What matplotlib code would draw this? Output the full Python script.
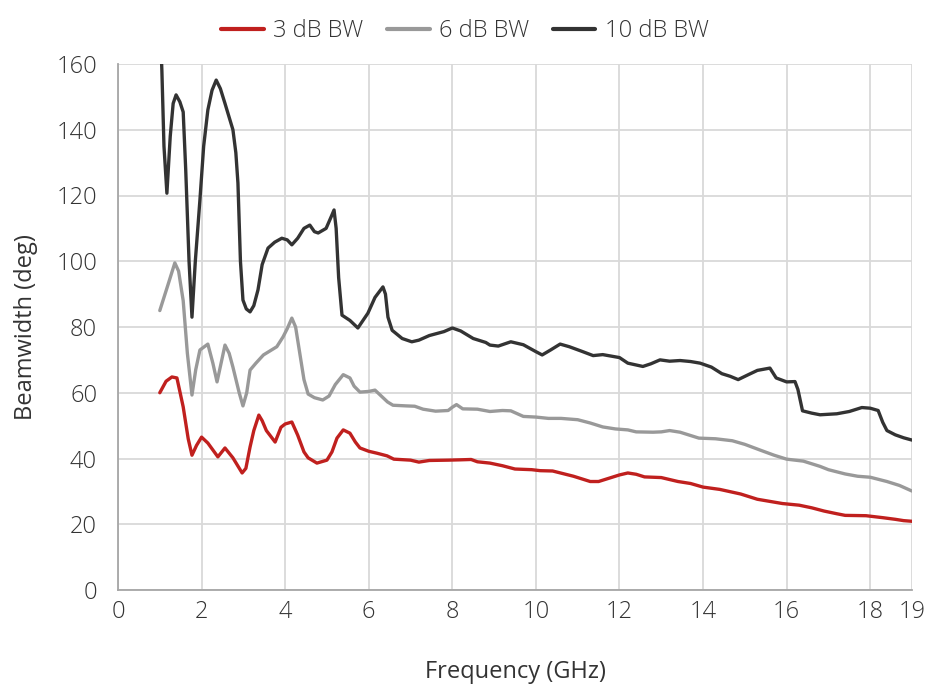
import matplotlib
matplotlib.use("Agg")
import matplotlib.pyplot as plt

# ---- data ----
f_3db = [1.0, 1.15, 1.29, 1.41, 1.56, 1.68, 1.77, 1.88, 2.0, 2.15, 2.39, 2.56, 2.75, 2.97, 3.06,
         3.16, 3.25, 3.37, 3.45, 3.55, 3.76, 3.9, 4.0, 4.16, 4.3, 4.45, 4.55, 4.76, 5.0, 5.12,
         5.24, 5.39, 5.55, 5.68, 5.79, 6.0, 6.2, 6.44, 6.6, 7.0, 7.2, 7.45, 7.9, 8.2, 8.45,
         8.6, 8.9, 9.2, 9.5, 9.9, 10.1, 10.4, 10.9, 11.3, 11.5, 11.8, 12.0, 12.2, 12.4, 12.6,
         13.0, 13.4, 13.7, 14.0, 14.4, 14.9, 15.3, 15.9, 16.3, 16.6, 16.9, 17.2, 17.4, 17.9,
         18.3, 18.6, 18.8, 19.0]
bw_3db = [60, 63.5, 64.8, 64.5, 55.7, 46, 41, 44, 46.5, 44.7, 40.5, 43.2, 40.2, 35.6, 37,
          43.5, 48.5, 53.2, 51.5, 48.5, 45, 49.5, 50.5, 51.1, 47.1, 42, 40.2, 38.6, 39.5, 42,
          46.2, 48.7, 47.7, 45, 43.2, 42.2, 41.6, 40.8, 39.8, 39.5, 38.9, 39.4, 39.5, 39.6, 39.7,
          39, 38.6, 37.8, 36.8, 36.6, 36.3, 36.2, 34.6, 33, 33, 34.2, 35, 35.6, 35.2, 34.4,
          34.2, 33, 32.4, 31.3, 30.6, 29.2, 27.6, 26.3, 25.8, 25, 24, 23.2, 22.7, 22.6,
          22.0, 21.5, 21.1, 20.9]

f_6db = [1.0, 1.2, 1.36, 1.45, 1.56, 1.66, 1.77, 1.86, 1.96, 2.15, 2.27, 2.37, 2.45, 2.56, 2.66,
         2.75, 2.9, 2.99, 3.08, 3.16, 3.3, 3.48, 3.8, 3.95, 4.05, 4.16, 4.25, 4.35, 4.45, 4.55,
         4.7, 4.9, 5.05, 5.2, 5.39, 5.55, 5.65, 5.79, 6.0, 6.15, 6.3, 6.45, 6.58, 6.9, 7.1,
         7.3, 7.6, 7.9, 8.0, 8.1, 8.25, 8.6, 8.9, 9.2, 9.4, 9.7, 10.0, 10.3, 10.6, 11.0,
         11.3, 11.6, 11.9, 12.2, 12.4, 12.8, 13.0, 13.2, 13.45, 13.7, 13.9, 14.3, 14.7, 15.0,
         15.4, 15.7, 16.0, 16.4, 16.8, 17.0, 17.4, 17.7, 18.0, 18.4, 18.7, 19.0]
bw_6db = [85, 93, 99.5, 97, 88, 72, 59.3, 67, 73, 74.8, 69, 63.3, 68, 74.5, 72,
          67.8, 60, 56, 60, 66.9, 69, 71.5, 74, 77, 79.5, 82.7, 80, 72, 64, 59.6,
          58.5, 57.8, 59, 62.5, 65.5, 64.5, 62, 60.2, 60.4, 60.8, 59, 57.2, 56.2, 56, 55.9,
          55, 54.4, 54.6, 55.6, 56.4, 55.1, 55, 54.3, 54.6, 54.5, 52.8, 52.6, 52.2, 52.2, 51.8,
          50.8, 49.6, 49, 48.7, 48.1, 48, 48.1, 48.5, 48, 47, 46.2, 46, 45.4, 44.3,
          42.4, 41, 39.8, 39.2, 37.6, 36.6, 35.3, 34.6, 34.3, 33, 31.8, 30.1]

f_10db = [1.0, 1.05, 1.1, 1.17, 1.25, 1.32, 1.39, 1.48, 1.56, 1.62, 1.7, 1.77, 1.85, 1.96, 2.05,
          2.15, 2.25, 2.35, 2.45, 2.56, 2.75, 2.82, 2.87, 2.93, 2.99, 3.07, 3.16, 3.25, 3.35,
          3.45, 3.59, 3.75, 3.92, 4.05, 4.16, 4.3, 4.45, 4.59, 4.7, 4.79, 4.98, 5.1, 5.17,
          5.22, 5.28, 5.36, 5.55, 5.74, 5.98, 6.15, 6.34, 6.4, 6.46, 6.56, 6.8, 7.03, 7.2,
          7.45, 7.8, 8.0, 8.2, 8.5, 8.8, 8.9, 9.1, 9.4, 9.7, 10.0, 10.15, 10.35, 10.58, 10.8,
          11.1, 11.37, 11.6, 12.0, 12.2, 12.56, 12.75, 12.97, 13.2, 13.45, 13.7, 13.93, 14.2,
          14.45, 14.65, 14.84, 15.1, 15.3, 15.6, 15.75, 16.0, 16.2, 16.27, 16.38, 16.6, 16.8,
          17.2, 17.5, 17.8, 18.0, 18.19, 18.3, 18.4, 18.6, 18.8, 19.0]
bw_10db = [175, 158, 135, 120.7, 138, 148, 150.6, 148.5, 145.4, 128, 100, 83, 100, 118.6, 135,
           146, 152, 155.1, 152.5, 148, 140, 133, 123.8, 100, 88.2, 85.5, 84.6, 86.5, 91.3,
           99, 104, 105.8, 107, 106.5, 105, 107, 110, 111, 109, 108.6, 110, 113.5, 115.6,
           110, 95, 83.6, 82, 79.7, 84.2, 89, 92.2, 90, 83, 79, 76.5, 75.5, 76,
           77.4, 78.6, 79.7, 78.8, 76.5, 75.3, 74.5, 74.2, 75.5, 74.6, 72.5, 71.5, 73, 74.8, 74,
           72.6, 71.3, 71.6, 70.7, 69, 68, 68.8, 70, 69.6, 69.8, 69.5, 69, 67.8,
           65.8, 65, 64, 65.6, 66.8, 67.5, 64.5, 63.3, 63.4, 61, 54.5, 53.8, 53.3,
           53.6, 54.3, 55.5, 55.3, 54.6, 51, 48.5, 47.2, 46.3, 45.6]

series_labels = ["3 dB BW", "6 dB BW", "10 dB BW"]
x_ticks = [0, 2, 4, 6, 8, 10, 12, 14, 16, 18, 19]
y_ticks = [0, 20, 40, 60, 80, 100, 120, 140, 160]

# ---- style ----
plt.rcParams['font.family'] = ['Open Sans', 'DejaVu Sans']
plt.rcParams['font.weight'] = 'light'
text_color = "#333333"
colors = ["#c0201e", "#999999", "#333333"]

fig = plt.figure(figsize=(9.3, 6.96), dpi=100)
ax = fig.add_axes([118/930, 1-590/696, (912-118)/930, (590-64)/696])

for fx, fy, c, lab in zip([f_3db, f_6db, f_10db], [bw_3db, bw_6db, bw_10db], colors, series_labels):
    ax.plot(fx, fy, color=c, lw=2.4, label=lab, solid_joinstyle='round', solid_capstyle='round')

ax.set_xlim(0, 19)
ax.set_ylim(0, 160)
ax.set_xticks(x_ticks)
ax.set_yticks(y_ticks)
ax.grid(True, color="#d9d9d9", lw=1.3)
ax.set_axisbelow(True)
for s in ["top", "right"]:
    ax.spines[s].set_visible(False)
for s in ["left", "bottom"]:
    ax.spines[s].set_color("#a6a6a6")
    ax.spines[s].set_linewidth(1.3)
ax.tick_params(axis='both', length=0, labelsize=17, labelcolor=text_color)
ax.tick_params(axis='x', pad=7)
ax.tick_params(axis='y', pad=15)
ax.set_xlabel("Frequency (GHz)", fontsize=17, color=text_color, labelpad=26)
ax.set_ylabel("Beamwidth (deg)", fontsize=17, color=text_color, labelpad=13)

leg = fig.legend(loc="center", bbox_to_anchor=(0.5, 1-31/696), ncol=3, frameon=False,
                 fontsize=17, handlelength=1.8, handletextpad=0.4, columnspacing=1.0)
for t in leg.get_texts():
    t.set_color(text_color)
for h in leg.get_lines():
    h.set_linewidth(3)

fig.savefig("out.png", dpi=100)
